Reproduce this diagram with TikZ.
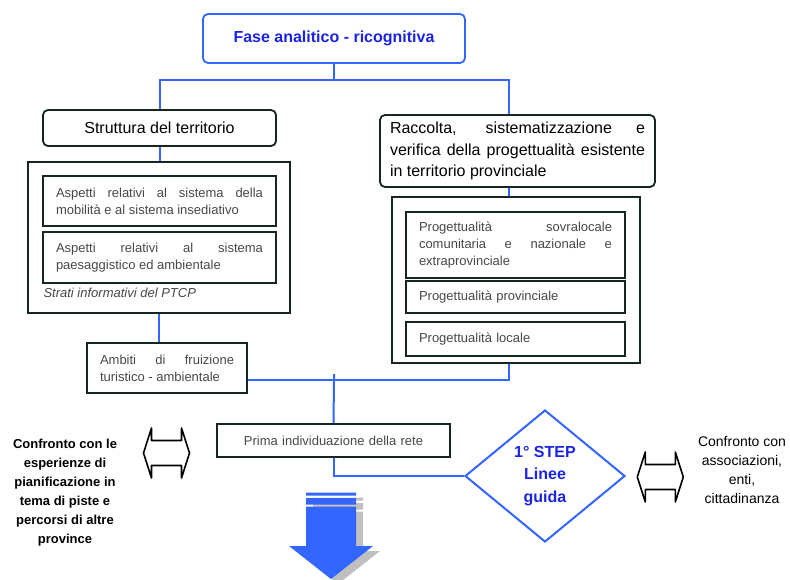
\documentclass[tikz,border=0pt]{standalone}
\usepackage{fontspec}
\setmainfont{Liberation Sans}
\usepackage{tikz}
\usetikzlibrary{arrows,positioning,shapes}
\definecolor{LineBlue}{RGB}{51,102,255}
\definecolor{TitleBlue}{RGB}{28,36,228}
\definecolor{BoxDark}{RGB}{22,38,32}
\definecolor{TextGrey}{RGB}{72,72,72}
\definecolor{ShadowGrey}{RGB}{192,192,192}

\begin{document}
\begin{tikzpicture}[x=1pt, y=-1pt,
                    link/.style = {draw=LineBlue, line width=2pt},
                    head/.style = {draw=BoxDark, line width=1.8pt, rounded corners=5pt, inner sep=0pt,
                                   font=\fontsize{16}{21.5}\selectfont},
                    frame/.style = {draw=BoxDark, line width=1.6pt, inner sep=0pt},
                    item/.style = {draw=BoxDark, line width=2pt, text=TextGrey, align=justify,
                                   inner xsep=13pt, inner ysep=0pt, font=\fontsize{13}{17}\selectfont},
                    swap/.style = {inner sep=0pt, minimum width=46pt, minimum height=50pt},
                    swapline/.style = {draw=black, fill=white, line width=1.6pt, line join=round},
                    note/.style = {align=center, font=\fontsize{13}{19}\selectfont\bfseries}
                    ]
\tikzset{
  step_txt/.style={font=\fontsize{16}{22.5}\selectfont\bfseries, text=TitleBlue, align=center},
}

\useasboundingbox[fill=white] (0,0) rectangle (790,579);

\node[head, draw=LineBlue, text=TitleBlue, font=\fontsize{16}{20}\selectfont\bfseries,
      minimum width=262pt, minimum height=49pt] (fase) at (334,38.5) {Fase analitico - ricognitiva};

\node[head, minimum width=233pt, minimum height=36pt] (struttura) at (159.5,128) {Struttura del territorio};
\node[frame, minimum width=262pt, minimum height=151pt] (leftframe) at (159,237.5) {};
\node[item, text width=207pt, minimum height=50pt] (mob) at (159.5,201)
     {Aspetti relativi al sistema della\linebreak mobilità e al sistema insediativo};
\node[item, text width=207pt, minimum height=51pt] (paes) at (159.5,257.5)
     {Aspetti relativi al sistema\linebreak paesaggistico ed ambientale};
\node[anchor=west, text=TextGrey, font=\fontsize{13}{17}\selectfont\itshape] (strati) at (40,293)
     {Strati informativi del PTCP};
\node[item, text width=134pt, minimum height=50pt] (ambiti) at (167,368)
     {Ambiti di fruizione\linebreak turistico - ambientale};

\node[head, text width=255pt, inner xsep=10pt, align=justify, minimum height=72pt] (raccolta) at (517.5,151)
     {Raccolta, sistematizzazione e\linebreak verifica della progettualità esistente\linebreak in territorio provinciale};
\node[frame, minimum width=248pt, minimum height=166pt] (rightframe) at (516,280) {};
\node[item, text width=193pt, minimum height=66pt] (sovra) at (515.5,245)
     {Progettualità sovralocale\linebreak comunitaria e nazionale e\linebreak extraprovinciale};
\node[item, text width=193pt, align=left, minimum height=32pt] (prov) at (515.5,297) {Progettualità provinciale};
\node[item, text width=193pt, align=left, minimum height=34pt] (locale) at (515.5,339) {Progettualità locale};

\node[item, align=center, text width=207pt, minimum height=33pt] (prima) at (333.5,440.5)
     {Prima individuazione della rete};
\node[diamond, draw=LineBlue, line width=2pt, inner sep=0pt, step_txt,
      minimum width=160pt, minimum height=132pt] (step) at (545,476) {1° STEP\\Linee\\guida};

\node[swap] (swapL) at (166.7,453) {};
\node[swap] (swapR) at (660.5,477) {};
\foreach \s in {swapL,swapR}
  \draw[swapline] (\s.west) -- ++(8,-25) -- ++(0,12.5) -- ++(30,0) -- ++(0,-12.5) -- ++(8,25)
                  -- ++(-8,25) -- ++(0,-12.5) -- ++(-30,0) -- ++(0,12.5) -- cycle;
\node[note] (noteL) at (65,492.5)
     {Confronto con le\\esperienze di\\pianificazione in\\tema di piste e\\percorsi di altre\\province};
\node[note, font=\fontsize{14}{19}\selectfont] (noteR) at (742,470)
     {Confronto con\\associazioni,\\enti,\\cittadinanza};

\coordinate (split) at (334,80);
\coordinate (rx) at (509,0);
\coordinate (merge) at (334,380);

\draw[link] (fase.south) -- (split);
\draw[link] (struttura.north) |- (split) -| (raccolta.north -| rx);
\draw[link] (struttura.south) -- (struttura.south |- leftframe.north);
\draw[link] (leftframe.south) -- (leftframe.south |- ambiti.north);
\draw[link] (raccolta.south -| rx) -- (rightframe.north -| rx);
\draw[link] (rightframe.south -| rx) |- (merge) -- (merge -| ambiti.east);
\draw[link] (prima.north) -- (merge) -- ++(0,-6);
\draw[link] (prima.south) |- (step.west);

\fill[ShadowGrey, shift={(7,5)}] (306,492.5) rectangle (356,495.5) (306,498) rectangle (356,504.5)
     (306,506.5) -- (356,506.5) -- (356,546) -- (373,546) -- (331,579) -- (289,546) -- (306,546) -- cycle;
\fill[LineBlue] (306,492.5) rectangle (356,495.5) (306,498) rectangle (356,504.5)
     (306,506.5) -- (356,506.5) -- (356,546) -- (373,546) -- (331,579) -- (289,546) -- (306,546) -- cycle;
\end{tikzpicture}
\end{document}
